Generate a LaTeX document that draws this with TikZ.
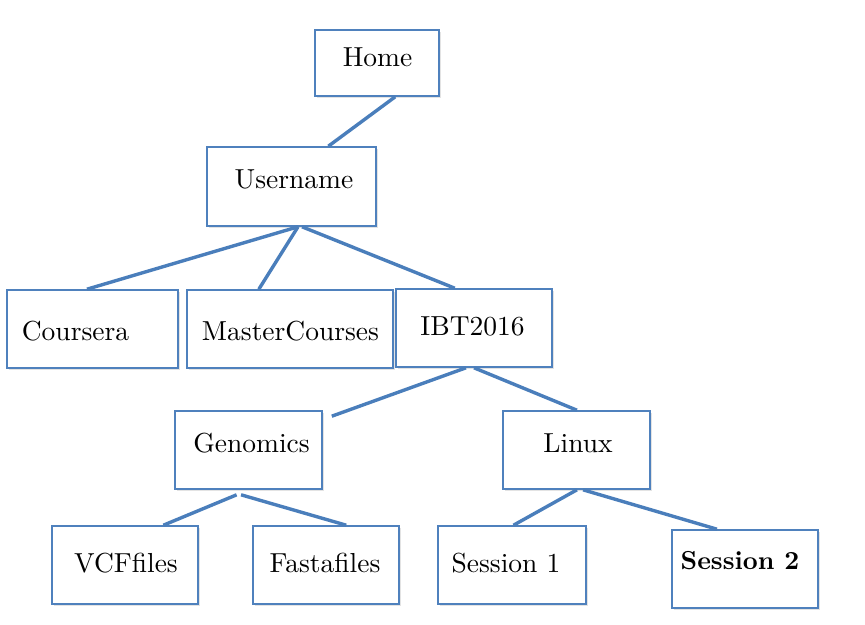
\documentclass[tikz,border=0pt]{standalone}
\usepackage{fontspec}
\setmainfont{lmroman10-regular.otf}[BoldFont=lmroman10-bold.otf]
\usetikzlibrary{calc,shadows}
\definecolor{boxblue}{HTML}{4F81BD}
\definecolor{lineblue}{HTML}{4A7EBB}
\begin{document}
\begin{tikzpicture}[x=1pt,y=-1pt,
  box/.style={draw=boxblue, line width=1.6pt, fill=white, inner sep=0pt,
    minimum height=78, minimum width=147,
    drop shadow={shadow xshift=1.5pt, shadow yshift=-1.8pt, opacity=0.22}},
  txt/.style={anchor=base, inner sep=0pt, font=\fontsize{27.5}{32}\selectfont},
  conn/.style={draw=lineblue, line width=3.4pt}]
\useasboundingbox (0,0) rectangle (865,624);
% boxes
\node[box, minimum width=124, minimum height=66] (home) at (377,63) {};
\node[box, minimum width=169, minimum height=79] (user) at (291.5,186.5) {};
\node[box, minimum width=171] (coursera) at (92.5,329) {};
\node[box, minimum width=206] (master) at (290,329) {};
\node[box, minimum width=156] (ibt) at (474,328) {};
\node[box] (genomics) at (248.5,450) {};
\node[box] (linux) at (576.5,450) {};
\node[box, minimum width=146] (vcf) at (125,565) {};
\node[box, minimum width=146] (fasta) at (326,565) {};
\node[box, minimum width=148] (sess1) at (512,565) {};
\node[box, minimum width=146] (sess2) at (745,569) {};
% texts
\node[txt] (homet) at (377.5,66) {Home};
\node[txt] (usert) at (294,188) {Username};
\node[txt] (courserat) at (75.5,340) {Coursera};
\node[txt] (mastert) at (290.5,340) {MasterCourses};
\node[txt] (ibtt) at (472.5,335) {IBT2016};
\node[txt] (genomicst) at (251.5,452) {Genomics};
\node[txt] (linuxt) at (578,452) {Linux};
\node[txt] (vcft) at (126,572) {VCFfiles};
\node[txt] (fastat) at (325,572) {Fastafiles};
\node[txt] (sess1t) at (506,572) {Session 1};
\node[txt, font=\fontsize{26}{32}\selectfont\bfseries] (sess2t) at (740,569) {Session 2};
% connectors
\draw[conn] ($(home.south west)!0.645!(home.south east)$) -- ($(user.north west)!0.716!(user.north east)$);
\draw[conn] ($(user.south west)!0.538!(user.south east)$) -- ($(coursera.north west)!0.468!(coursera.north east)$);
\draw[conn] ($(user.south west)!0.538!(user.south east)$) -- ($(master.north west)!0.35!(master.north east)$);
\draw[conn] ($(user.south west)!0.562!(user.south east)$) -- ($(ibt.north west)!0.378!(ibt.north east)$);
\draw[conn] ($(ibt.south west)!0.449!(ibt.south east)$) -- ($(genomics.north east)+(9,6)$);
\draw[conn] ($(ibt.south west)!0.5!(ibt.south east)$) -- ($(linux.north west)!0.503!(linux.north east)$);
\draw[conn] ($(genomics.south west)!0.42!(genomics.south east)+(0,5)$) -- ($(vcf.north west)!0.76!(vcf.north east)$);
\draw[conn] ($(genomics.south west)!0.45!(genomics.south east)+(0,5)$) -- ($(fasta.north west)!0.637!(fasta.north east)$);
\draw[conn] ($(linux.south west)!0.503!(linux.south east)$) -- ($(sess1.north west)!0.51!(sess1.north east)$);
\draw[conn] ($(linux.south west)!0.544!(linux.south east)$) -- ($(sess2.north west)!0.31!(sess2.north east)$);
\end{tikzpicture}
\end{document}
